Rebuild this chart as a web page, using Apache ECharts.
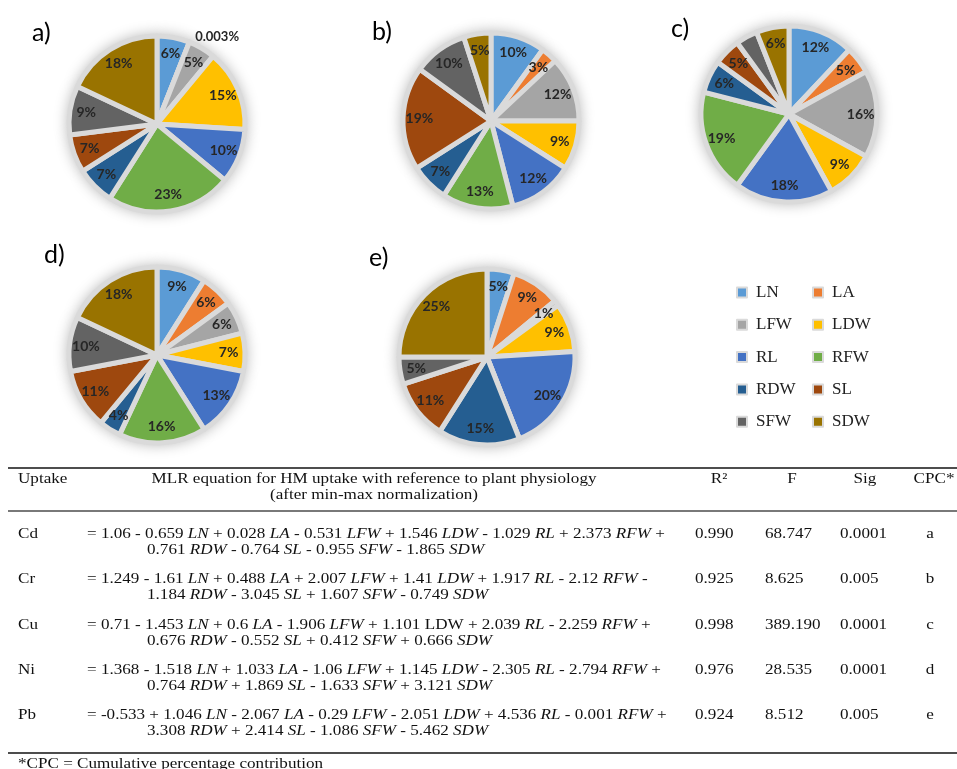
<!DOCTYPE html>
<html>
<head>
<meta charset="utf-8">
<script src="https://cdn.jsdelivr.net/npm/echarts@6/dist/echarts.min.js"></script>
<style>
  html, body { margin: 0; padding: 0; background: #ffffff; }
  #chart { width: 957px; height: 769px; }
</style>
</head>
<body>
<div id="chart"></div>
<script>
// Plant physiology variables and their Office-style colours
const variables = ['LN', 'LA', 'LFW', 'LDW', 'RL', 'RFW', 'RDW', 'SL', 'SFW', 'SDW'];
const palette = ['#5B9BD5', '#ED7D31', '#A5A5A5', '#FFC000', '#4472C4', '#70AD47', '#255E91', '#9E480E', '#636363', '#997300'];

// Cumulative percentage contribution (%) of each variable, per metal
const contribCd = [6, 0.003, 5, 15, 10, 23, 7, 7, 9, 18];
const contribCr = [10, 3, 12, 9, 12, 13, 7, 19, 10, 5];
const contribCu = [12, 5, 16, 9, 18, 19, 6, 5, 4, 6];
const contribNi = [9, 6, 6, 7, 13, 16, 4, 11, 10, 18];
const contribPb = [5, 9, 1, 9, 20, 0, 15, 11, 5, 25];

// Regression table
const uptakes = ['Cd', 'Cr', 'Cu', 'Ni', 'Pb'];
const equationLine1 = [
  '= 1.06 - 0.659 _LN_ + 0.028 _LA_ - 0.531 _LFW_ + 1.546 _LDW_ - 1.029 _RL_ + 2.373 _RFW_ +',
  '= 1.249 - 1.61 _LN_ + 0.488 _LA_ + 2.007 _LFW_ + 1.41 _LDW_ + 1.917 _RL_ - 2.12 _RFW_ -',
  '= 0.71 - 1.453 _LN_ + 0.6 _LA_ - 1.906 _LFW_ + 1.101 LDW + 2.039 _RL_ - 2.259 _RFW_ +',
  '= 1.368 - 1.518 _LN_ + 1.033 _LA_ - 1.06 _LFW_ + 1.145 _LDW_ - 2.305 _RL_ - 2.794 _RFW_ +',
  '= -0.533 + 1.046 _LN_ - 2.067 _LA_ - 0.29 _LFW_ - 2.051 _LDW_ + 4.536 _RL_ - 0.001 _RFW_ +'
];
const equationLine2 = [
  '0.761 _RDW_ - 0.764 _SL_ - 0.955 _SFW_ - 1.865 _SDW_',
  '1.184 _RDW_ - 3.045 _SL_ + 1.607 _SFW_ - 0.749 _SDW_',
  '0.676 _RDW_ - 0.552 _SL_ + 0.412 _SFW_ + 0.666 _SDW_',
  '0.764 _RDW_ + 1.869 _SL_ - 1.633 _SFW_ + 3.121 _SDW_',
  '3.308 _RDW_ + 2.414 _SL_ - 1.086 _SFW_ - 5.462 _SDW_'
];
const rSquared = ['0.990', '0.925', '0.998', '0.976', '0.924'];
const fValues = ['68.747', '8.625', '389.190', '28.535', '8.512'];
const sigValues = ['0.0001', '0.005', '0.0001', '0.0001', '0.005'];
const cpcTags = ['a', 'b', 'c', 'd', 'e'];
const headerTitle = ['MLR equation for HM uptake with reference to plant physiology', '(after min-max normalization)'];
const footnote = '*CPC = Cumulative percentage contribution';

const contributions = [contribCd, contribCr, contribCu, contribNi, contribPb];

// Layout
const pieCenters = [[157, 124], [491, 121], [789, 114], [157, 355], [487, 357]];
const pieRadius = 88;
const tagPos = [[32, 33], [372, 32], [671, 29], [44, 255], [369, 258]];

const serif = 'Liberation Serif';
const tableFont = 15;
const stretch = 1.14;

const mainSeries = [], backSeries = [], labelSeries = [];
contributions.forEach((vals, k) => {
  const data = vals.map((v, i) => ({ name: variables[i], value: v }));
  mainSeries.push({
    type: 'pie', center: pieCenters[k], radius: [0, pieRadius],
    startAngle: 90, clockwise: true, z: 3, silent: true, animation: false,
    color: palette,
    label: { show: false }, labelLine: { show: false },
    itemStyle: { borderColor: '#dadada', borderWidth: 5 },
    data: data
  });
  backSeries.push({
    type: 'pie', center: pieCenters[k], radius: [0, pieRadius + 2],
    startAngle: 90, clockwise: true, z: 1, silent: true, animation: false,
    label: { show: false }, labelLine: { show: false },
    itemStyle: { color: '#e4e4e4', shadowBlur: 14, shadowColor: 'rgba(0,0,0,0.28)' },
    data: data.map(d => ({ name: d.name, value: d.value }))
  });
  labelSeries.push({
    type: 'pie', center: pieCenters[k], radius: [pieRadius * 0.56, pieRadius],
    startAngle: 90, clockwise: true, z: 5, silent: true, animation: false,
    itemStyle: { color: 'rgba(0,0,0,0)' },
    labelLine: { show: false, length: 2, length2: 0 },
    avoidLabelOverlap: false,
    label: {
      show: true, position: 'inside',
      formatter: p => (p.value ? p.value + '%' : ''),
      fontFamily: 'Lato', fontWeight: 'bold', fontSize: 14, color: '#262626'
    },
    data: data.map(d => d.value > 0 && d.value < 0.5
      ? { name: d.name, value: d.value, label: { position: 'outside', fontSize: 13, offset: [0, -4] } }
      : { name: d.name, value: d.value })
  });
});

// Turns "_X_" markers into italic rich-text runs
function richEquation(s) {
  return s.split(/(_[A-Z]+_)/).filter(t => t.length).map(t =>
    t.charAt(0) === '_' ? '{i|' + t.slice(1, -1) + '}' : '{n|' + t + '}'
  ).join('');
}

const txtStyle = (text, align) => ({
  text: text, fill: '#111', fontFamily: serif, fontSize: tableFont,
  align: align || 'left', verticalAlign: 'middle'
});

const graphics = [];
// panel tags a) ... e)
cpcTags.forEach((t, k) => {
  graphics.push({ type: 'text', x: tagPos[k][0], y: tagPos[k][1],
    style: { text: t + ')', fill: '#000', fontFamily: 'Lato', fontSize: 25, verticalAlign: 'middle' } });
});

// table rules
const ruleL = 8, ruleR = 957;
[[468, 2], [511, 1.5], [753, 2]].forEach(r => {
  graphics.push({ type: 'line', shape: { x1: ruleL, y1: r[0], x2: ruleR, y2: r[0] },
    style: { stroke: '#4d4d4d', lineWidth: r[1] } });
});

// a stretched serif text cell (scaled about its own anchor)
function cell(x, y, style) {
  return { type: 'text', x: x, y: y, scaleX: stretch, style: style };
}

// header
const hdrY = 479;
const colUptake = 18, colEq1 = 87, colEq2 = 147, colEqMid = 374;
const colR2 = 695, colF = 765, colSig = 840, colCpc = 930;
graphics.push(cell(colUptake, hdrY, txtStyle('Uptake')));
graphics.push(cell(colEqMid, hdrY, txtStyle(headerTitle[0], 'center')));
graphics.push(cell(colEqMid, hdrY + 16, txtStyle(headerTitle[1], 'center')));
graphics.push(cell(719, hdrY, txtStyle('R²', 'center')));
graphics.push(cell(792, hdrY, txtStyle('F', 'center')));
graphics.push(cell(865, hdrY, txtStyle('Sig', 'center')));
graphics.push(cell(934, hdrY, txtStyle('CPC*', 'center')));

// body rows
uptakes.forEach((u, i) => {
  const y = 534 + i * 45.3;
  graphics.push(cell(colUptake, y, txtStyle(u)));
  [[equationLine1[i], colEq1, y], [equationLine2[i], colEq2, y + 16]].forEach(e => {
    graphics.push(cell(e[1], e[2], {
      text: richEquation(e[0]), fill: '#111', fontFamily: serif, fontSize: tableFont,
      align: 'left', verticalAlign: 'middle',
      rich: {
        n: { fontFamily: serif, fontSize: tableFont, fill: '#111' },
        i: { fontFamily: serif, fontSize: tableFont, fontStyle: 'italic', fill: '#111' }
      }
    }));
  });
  graphics.push(cell(colR2, y, txtStyle(rSquared[i])));
  graphics.push(cell(colF, y, txtStyle(fValues[i])));
  graphics.push(cell(colSig, y, txtStyle(sigValues[i])));
  graphics.push(cell(colCpc, y, txtStyle(cpcTags[i], 'center')));
});

graphics.push(cell(colUptake, 764, txtStyle(footnote)));

const legendText = { fontFamily: serif, fontSize: 17, color: '#222', lineHeight: 16, padding: [0, 0, 0, 4] };
const legendBase = {
  orient: 'vertical', top: 284, padding: 0, itemWidth: 10, itemHeight: 10,
  itemGap: 15.3, icon: 'rect', selectedMode: false, textStyle: legendText
};

const chart = echarts.init(document.getElementById('chart'), null, { renderer: 'canvas' });
chart.setOption({
  backgroundColor: '#ffffff',
  animation: false,
  legend: [
    Object.assign({}, legendBase, { left: 736, data: variables.filter((v, i) => i % 2 === 0) }),
    Object.assign({}, legendBase, { left: 812, data: variables.filter((v, i) => i % 2 === 1) })
  ],
  series: mainSeries.concat(backSeries, labelSeries),
  graphic: { elements: graphics }
});
</script>
</body>
</html>
